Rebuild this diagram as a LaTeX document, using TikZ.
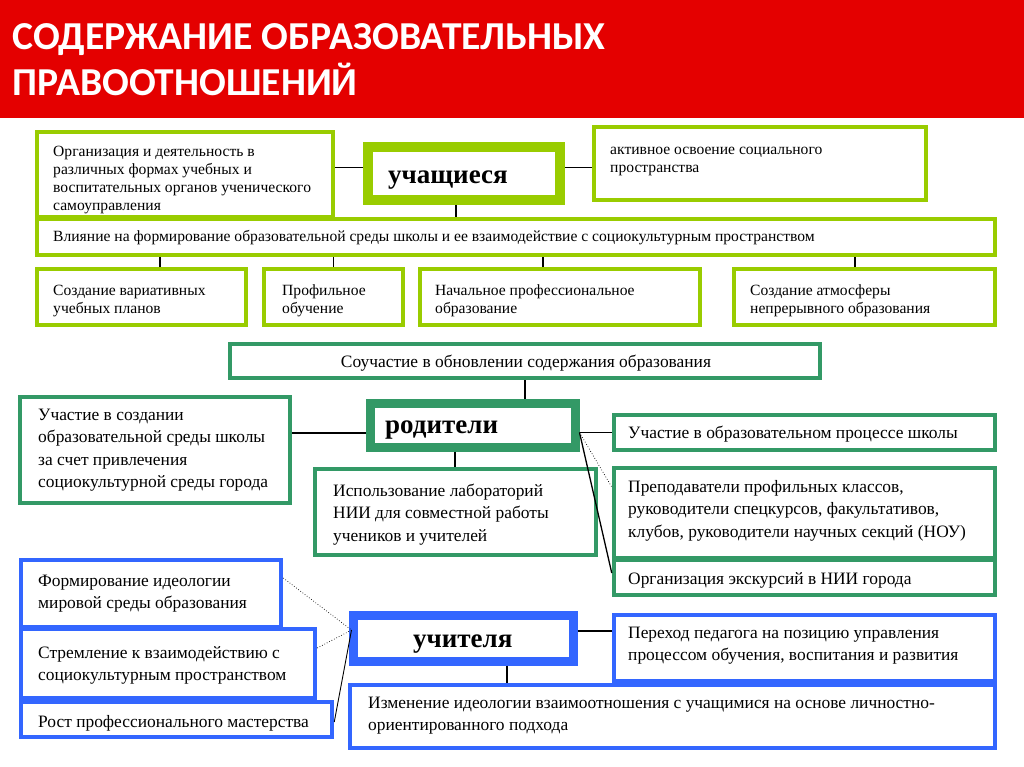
\documentclass[tikz,border=0pt]{standalone}
\usepackage{fontspec}
\setmainfont{Liberation Serif}
\newfontfamily\titlefont{Carlito}
\usetikzlibrary{fit}
\definecolor{limec}{RGB}{153,204,0}
\definecolor{sgreen}{RGB}{51,153,102}
\definecolor{sblue}{RGB}{51,102,255}
\definecolor{hred}{RGB}{228,0,0}
\newcommand\ml[1]{\begin{tabular}[t]{@{}l@{}}#1\end{tabular}}
\newcommand\bx[6]{\node[#2, fit={(#3,#4) (#5,#6)}] (#1) {};}
\newcommand\tx[5]{\node[#2, anchor=base west] (#1) at (#3,#4) {\ml{#5}};}
\tikzset{
  frame/.style={fill=white, inner sep=0pt},
  lbox/.style={frame, draw=limec, line width=4pt},
  lthick/.style={frame, draw=limec, line width=10pt},
  gbox/.style={frame, draw=sgreen, line width=4.5pt},
  gthick/.style={frame, draw=sgreen, line width=9pt},
  bbox/.style={frame, draw=sblue, line width=4.5pt},
  bthick/.style={frame, draw=sblue, line width=9pt},
  small/.style={inner sep=0pt, font=\fontsize{15.6}{18}\selectfont},
  mid/.style={inner sep=0pt, font=\fontsize{17.4}{22.5}\selectfont},
  big/.style={inner sep=0pt, font=\bfseries\fontsize{27}{30}\selectfont},
  conn/.style={draw=black, line width=1.3pt},
  thin/.style={draw=black, line width=0.9pt},
  dots/.style={draw=black, line width=0.7pt, dotted},
  titletxt/.style={inner sep=0pt, text=white, font=\titlefont\bfseries\fontsize{39.6}{45}\selectfont}
}
\begin{document}
\begin{tikzpicture}[x=1pt,y=-1pt]
\useasboundingbox (0,0) rectangle (1024,767);
\fill[white] (0,0) rectangle (1024,767);
\fill[hred] (0,0) rectangle (1024,118);
\node[titletxt, anchor=base west] (title) at (12,50) {\ml{СОДЕРЖАНИЕ ОБРАЗОВАТЕЛЬНЫХ\\ПРАВООТНОШЕНИЙ}};

% ---- учащиеся
\bx{org}{lbox}{37}{132}{333}{217}
\bx{infl}{lbox}{37}{219}{995}{255}
\bx{uch}{lthick}{368}{147}{560}{200}
\bx{akt}{lbox}{594}{127}{926}{200}
\bx{var}{lbox}{37}{269}{246}{325}
\bx{prof}{lbox}{264}{269}{403}{325}
\bx{nach}{lbox}{420}{269}{700}{325}
\bx{atm}{lbox}{734}{269}{995}{325}

\tx{orgt}{small}{53}{157}{Организация и деятельность в\\различных формах учебных и\\воспитательных органов ученического\\самоуправления}
\tx{uclt}{big}{388}{184}{учащиеся}
\tx{aktt}{small}{610}{155}{активное освоение социального\\пространства}
\tx{inflt}{small}{53}{241}{Влияние на формирование образовательной среды школы и ее взаимодействие с социокультурным пространством}
\tx{vart}{small}{53}{295}{Создание вариативных\\учебных планов}
\tx{proft}{small}{282}{295}{Профильное\\обучение}
\tx{nacht}{small}{435}{295}{Начальное профессиональное\\образование}
\tx{atmt}{small}{750}{295}{Создание атмосферы\\непрерывного образования}

\draw[conn] ([yshift=6pt]uch.west) -- ([yshift=6pt]uch.west -| org.east);
\draw[conn] ([yshift=6pt]uch.east) -- ([yshift=6pt]uch.east -| akt.west);
\draw[conn] ([xshift=-8pt]uch.south) -- ([xshift=-8pt]uch.south |- infl.north);
\draw[conn] ([xshift=18.5pt]var.north) -- ([xshift=18.5pt]var.north |- infl.south);
\draw[conn] (prof.north) -- (prof.north |- infl.south);
\draw[conn] ([xshift=-17pt]nach.north) -- ([xshift=-17pt]nach.north |- infl.south);
\draw[conn] ([xshift=-9.5pt]atm.north) -- ([xshift=-9.5pt]atm.north |- infl.south);

% ---- родители
\bx{souch}{gbox}{230}{344}{820}{378}
\bx{uchs}{gbox}{20}{397}{290}{503}
\bx{rod}{gthick}{370}{403}{575}{447}
\bx{isp}{gbox}{315}{469}{596}{555}
\bx{uobr}{gbox}{614}{415}{995}{450}
\bx{prep}{gbox}{614}{468}{995}{558}
\bx{ekskr}{gbox}{614}{560}{995}{595}

\node[mid, anchor=base] (soucht) at (526,367) {Соучастие в обновлении содержания образования};
\tx{uchst}{mid}{38}{420}{Участие в создании\\образовательной среды школы\\за счет привлечения\\социокультурной среды города}
\tx{rodt}{big}{385}{433}{родители}
\tx{ispt}{mid}{333}{496}{Использование лабораторий\\НИИ для совместной работы\\учеников и учителей}
\tx{uobrt}{mid}{628}{438}{Участие в образовательном процессе школы}
\tx{prept}{mid}{628}{492}{Преподаватели профильных классов,\\руководители спецкурсов, факультативов,\\клубов, руководители научных секций (НОУ)}
\tx{ekskrt}{mid}{628}{584}{Организация экскурсий в НИИ города}

\coordinate (rp) at (uobr.west -| rod.east);
\draw[conn] (souch.south) -- (souch.south |- rod.north);
\draw[conn] ([yshift=-8pt]rod.west) -- ([yshift=-8pt]rod.west -| uchs.east);
\draw[conn] (rp) -- (uobr.west);
\draw[conn] ([xshift=-17.5pt]rod.south) -- ([xshift=-17.5pt]rod.south |- isp.north);
\draw[dots] (rp) -- ([yshift=26pt]prep.west);
\draw[conn] (rp) -- ([yshift=4.5pt]ekskr.west);

% ---- учителя
\bx{form}{bbox}{21}{560}{281}{627}
\bx{strem}{bbox}{21}{629}{315}{698}
\bx{rost}{bbox}{21}{702}{332}{737}
\bx{uchit}{bthick}{353}{615}{573}{661}
\bx{perh}{bbox}{614}{615}{995}{681}
\bx{izm}{bbox}{350}{685}{995}{748}

\tx{formt}{mid}{38}{586}{Формирование идеологии\\мировой среды образования}
\tx{stremt}{mid}{38}{658}{Стремление к взаимодействию с\\социокультурным пространством}
\tx{rostt}{mid}{38}{727}{Рост профессионального мастерства}
\tx{uchitt}{big}{413}{647}{учителя}
\tx{perht}{mid}{628}{638}{Переход педагога на позицию управления\\процессом обучения, воспитания и развития}
\tx{izmt}{mid}{368}{708}{Изменение идеологии взаимоотношения с учащимися на основе личностно-\\ориентированного подхода}

\coordinate (cp) at ([xshift=3pt,yshift=8pt]uchit.west);
\draw[conn] ([yshift=7pt]uchit.east) -- ([yshift=7pt]uchit.east -| perh.west);
\draw[conn] ([xshift=44pt]uchit.south) -- ([xshift=44pt]uchit.south |- izm.north);
\draw[dots] ([yshift=15.5pt]form.east) -- (cp);
\draw[dots] ([yshift=15.5pt]strem.east) -- (cp);
\draw[thin] ([yshift=-2.5pt]rost.east) -- (cp);
\end{tikzpicture}
\end{document}
